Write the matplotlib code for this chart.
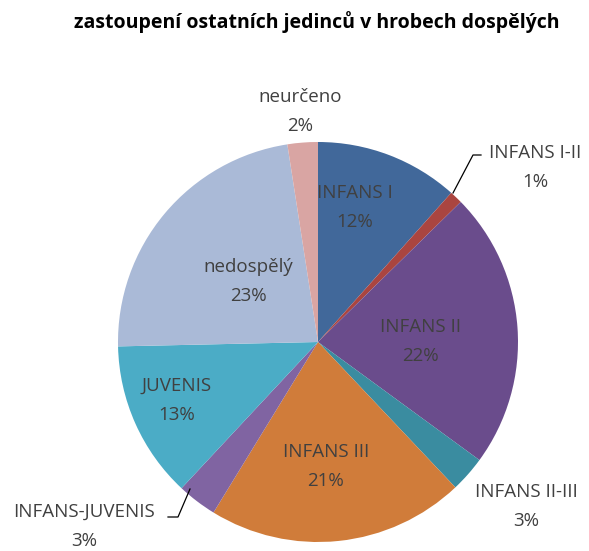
import matplotlib
matplotlib.use("Agg")
from matplotlib import pyplot as plt

# slice data, clockwise from 12 o'clock
categories = ["INFANS I", "INFANS I-II", "INFANS II", "INFANS II-III", "INFANS III",
              "INFANS-JUVENIS", "JUVENIS", "nedospělý", "neurčeno"]
values = [11.6, 1.05, 22.4, 2.9, 20.8, 3.2, 12.7, 22.9, 2.45]
pct_labels = ["12%", "1%", "22%", "3%", "21%", "3%", "13%", "23%", "2%"]
colors = ["#41689a", "#aa4540", "#6a4c8c", "#3a8ca0", "#d07c3a",
          "#8064a2", "#4bacc6", "#aabad7", "#d9a5a3"]
title = "zastoupení ostatních jedinců v hrobech dospělých"

# layout in image pixels (x, y from top)
W, H = 589, 551
cx, cy, R = 318, 342, 200
label_pos = [(355, 207), (535, 167), (420, 341), (526, 506), (326, 466),
             (84, 526), (177, 400), (248, 281), (300, 111)]
leaders = {1: [(453, 193), (473, 155), (481, 155)],
           5: [(190, 489), (178, 517), (168, 517)]}

plt.rcParams['font.family'] = ['Open Sans', 'DejaVu Sans']

fig = plt.figure(figsize=(W / 100, H / 100), dpi=100)
ax = fig.add_axes([0, 0, 1, 1])
ax.axis('off')

ax.pie(values, colors=colors, startangle=90, counterclock=False,
       radius=R, center=(cx, H - cy), wedgeprops=dict(linewidth=0))
ax.set_xlim(0, W)
ax.set_ylim(0, H)
ax.set_aspect('auto')

fs = 13.5
for i, (name, pct) in enumerate(zip(categories, pct_labels)):
    x, y = label_pos[i]
    ax.text(x, H - (y - 14), name, ha='center', va='center', fontsize=fs, color='#404040')
    ax.text(x, H - (y + 15), pct, ha='center', va='center', fontsize=fs, color='#404040')

for pts in leaders.values():
    ax.plot([p[0] for p in pts], [H - p[1] for p in pts], color='black', lw=0.9)

ax.text(317, H - 22, title, ha='center', va='center', fontsize=14,
        fontweight='bold', color='black')

fig.savefig("out.png", dpi=100)
